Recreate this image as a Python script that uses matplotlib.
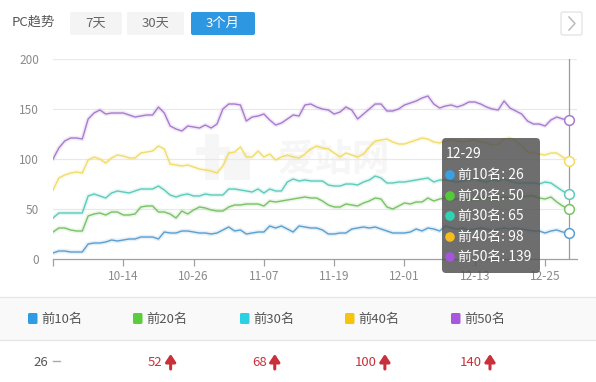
import matplotlib
matplotlib.use("Agg")
import matplotlib.pyplot as plt
from matplotlib.patches import FancyBboxPatch, Rectangle, Circle
import numpy as np

plt.rcParams['font.family'] = ['Noto Sans CJK SC', 'DejaVu Sans']

# ---------------- data ----------------
tick_labels = ["10-14", "10-26", "11-07", "11-19", "12-01", "12-13", "12-25"]
tick_days = [12, 24, 36, 48, 60, 72, 84]
series_names = ["前10名", "前20名", "前30名", "前40名", "前50名"]

top10 = [6, 8, 8, 7, 7, 7, 15, 16, 16, 17, 19, 18, 19, 20, 20, 22, 22, 22, 20, 27,
         26, 26, 28, 28, 27, 26, 26, 25, 26, 29, 32, 28, 29, 25, 26, 27, 27, 33, 31, 33,
         30, 27, 33, 32, 31, 31, 29, 25, 25, 26, 26, 30, 31, 32, 31, 32, 30, 28, 26, 26,
         26, 27, 30, 28, 31, 30, 28, 33, 31, 30, 31, 29, 30, 31, 30, 29, 30, 31, 30, 31,
         30, 29, 28, 28, 26, 28, 29, 27, 26]
top20 = [27, 31, 31, 29, 28, 28, 43, 45, 46, 44, 47, 47, 44, 44, 45, 52, 53, 53, 47, 47,
         45, 41, 48, 45, 49, 52, 51, 49, 48, 48, 52, 54, 54, 55, 55, 55, 53, 58, 57, 58,
         59, 60, 61, 62, 61, 61, 58, 54, 52, 52, 55, 54, 53, 56, 58, 61, 60, 52, 50, 53,
         56, 55, 57, 57, 61, 58, 60, 61, 59, 60, 61, 59, 60, 61, 62, 60, 61, 62, 61, 62,
         62, 63, 63, 61, 60, 62, 57, 53, 50]
top30 = [41, 46, 46, 46, 46, 46, 63, 65, 63, 61, 66, 68, 67, 66, 68, 70, 70, 70, 73, 69,
         64, 62, 64, 65, 63, 63, 65, 64, 64, 64, 70, 70, 69, 68, 67, 70, 66, 70, 68, 68,
         77, 80, 78, 79, 78, 78, 78, 74, 73, 73, 75, 75, 74, 77, 79, 83, 81, 76, 76, 77,
         77, 78, 79, 80, 81, 77, 79, 79, 78, 77, 78, 79, 80, 78, 77, 79, 78, 80, 78, 76,
         76, 76, 76, 75, 77, 76, 72, 68, 65]
top40 = [69, 81, 84, 86, 87, 86, 99, 102, 100, 96, 101, 104, 103, 101, 101, 106, 107, 108, 113, 110,
         95, 94, 93, 94, 92, 90, 89, 88, 86, 93, 106, 107, 112, 102, 102, 108, 102, 105, 99, 102,
         104, 102, 101, 105, 110, 113, 111, 110, 106, 102, 106, 104, 102, 105, 112, 118, 119, 120, 117, 115,
         115, 117, 119, 121, 120, 117, 116, 118, 119, 118, 117, 118, 119, 117, 116, 114, 115, 120, 121, 118,
         113, 107, 106, 105, 104, 106, 106, 102, 98]
top50 = [100, 111, 118, 121, 121, 120, 140, 146, 149, 145, 146, 146, 146, 144, 142, 143, 144, 144, 152, 146,
         133, 130, 128, 133, 132, 131, 134, 131, 135, 150, 155, 155, 154, 138, 142, 143, 145, 139, 134, 136,
         140, 144, 143, 154, 155, 152, 150, 149, 145, 147, 152, 149, 140, 145, 150, 155, 155, 148, 148, 150,
         154, 156, 158, 161, 163, 155, 151, 153, 154, 152, 154, 157, 157, 155, 152, 150, 149, 158, 151, 148,
         145, 138, 135, 135, 133, 139, 142, 140, 139]
series = [top10, top20, top30, top40, top50]

tooltip_date = "12-29"
summary_values = ["26", "52", "68", "100", "140"]
summary_trend = ["flat", "up", "up", "up", "up"]

line_colors = ["#5b9fcf", "#79c266", "#5ccbbb", "#f1dc6a", "#a97bcf"]
dot_colors = ["#3aa0e4", "#55c93a", "#2fd3b4", "#f7bd1c", "#a455de"]
legend_colors = ["#2f9be3", "#5ccb3c", "#2bd0e3", "#f5c40f", "#a958dd"]

W, H = 596, 382
fig = plt.figure(figsize=(W / 100, H / 100), dpi=100)
fig.patch.set_facecolor("white")

def fx(x):
    return x / W

def fy(y):
    return 1 - y / H

# ---------------- background (watermark) ----------------
bg = fig.add_axes([0, 0, 1, 1], zorder=0)
bg.set_xlim(0, W)
bg.set_ylim(H, 0)
bg.axis("off")
wm = "#f6f6f6"
bg.add_patch(Rectangle((205, 134), 14, 46, fc=wm, ec="none"))
bg.add_patch(Rectangle((196, 147), 34, 8, fc=wm, ec="none"))
bg.add_patch(Rectangle((224, 152), 26, 28, fc=wm, ec="none"))
bg.text(334, 159, "爱站网", fontsize=27, color=wm, ha="center", va="center", fontweight="bold")

# ---------------- main chart ----------------
n = len(top10)
left_px, right_px, top_px, bot_px = 53, 577, 59, 259
ax = fig.add_axes([fx(left_px), fy(bot_px), (right_px - left_px) / W, (bot_px - top_px) / H], zorder=1)
step = (568.5 - 53) / (n - 1)
ax.set_xlim(0, (right_px - left_px) / step)
ax.set_ylim(0, 200)
ax.patch.set_alpha(0)
days = np.arange(n)

for yv in [50, 100, 150, 200]:
    ax.axhline(yv, color="#e9e9e9", lw=0.9, zorder=1)

for vals, c in zip(series, line_colors):
    ax.plot(days, vals, color=c, lw=3.2, alpha=0.16, zorder=2, solid_capstyle="round")
    ax.plot(days, vals, color=c, lw=1.0, zorder=3)
    ax.plot([days[-1]], [vals[-1]], marker="o", ms=7, mfc="white", mec=c, mew=1.1, zorder=5)

ax.axvline(days[-1], color="#9a9a9a", lw=0.9, zorder=4)

for s in ["top", "right", "left"]:
    ax.spines[s].set_visible(False)
ax.spines["bottom"].set_color("#a0a0a0")
ax.spines["bottom"].set_linewidth(0.9)
ax.set_yticks([0, 50, 100, 150, 200])
ax.set_yticklabels(["0", "50", "100", "150", "200"])
ax.tick_params(axis="y", length=0, pad=10, labelsize=8.5, labelcolor="#8a8a8a")
ax.set_xticks([0] + tick_days)
ax.set_xticklabels([""] + tick_labels)
ax.tick_params(axis="x", length=5, width=0.9, color="#a0a0a0", pad=3, labelsize=8.5, labelcolor="#8a8a8a")

# ---------------- overlay (pixel coords) ----------------
ov = fig.add_axes([0, 0, 1, 1], zorder=10)
ov.set_xlim(0, W)
ov.set_ylim(H, 0)
ov.axis("off")
ov.patch.set_alpha(0)

# header
ov.text(12, 22, "PC趋势", fontsize=9.5, color="#555555", va="center", ha="left")
buttons = [("7天", 70, 122, "#f4f4f4", "#666666"),
           ("30天", 127, 184, "#f4f4f4", "#666666"),
           ("3个月", 191, 255, "#2d97e2", "#ffffff")]
for label, x0, x1, bgc, fg in buttons:
    ov.add_patch(FancyBboxPatch((x0, 12), x1 - x0, 23, boxstyle="round,pad=0,rounding_size=2",
                                fc=bgc, ec="none"))
    ov.text((x0 + x1) / 2, 23.5, label, fontsize=9.5, color=fg, ha="center", va="center")
ov.add_patch(FancyBboxPatch((561, 12), 21, 23, boxstyle="round,pad=0,rounding_size=2",
                            fc="white", ec="#e2e2e2", lw=0.9))
ov.plot([569, 575, 569], [17, 23.5, 30], color="#bbbbbb", lw=1.1)

# tooltip
ov.add_patch(FancyBboxPatch((442, 138), 98, 135, boxstyle="round,pad=0,rounding_size=4",
                            fc="#555555", ec="none", alpha=0.85))
ov.text(446, 154, tooltip_date, fontsize=10, color="white", va="center", ha="left")
row_y = [175, 196, 216, 237, 257]
for name, vals, c, yy in zip(series_names, series, dot_colors, row_y):
    ov.add_patch(Circle((450, yy), 4.8, fc=c, ec="none"))
    ov.text(458, yy, f"{name}: {vals[-1]}", fontsize=10, color="white", va="center", ha="left")

# bottom legend band
ov.add_patch(Rectangle((0, 297), W, 43, fc="#f9f9f9", ec="none", zorder=0))
ov.plot([0, W], [297, 297], color="#e6e6e6", lw=0.9)
ov.plot([0, W], [340, 340], color="#e6e6e6", lw=0.9)
leg_x = [28, 133, 240, 345, 451]
for name, c, x in zip(series_names, legend_colors, leg_x):
    ov.add_patch(FancyBboxPatch((x, 313), 9.5, 11, boxstyle="round,pad=0,rounding_size=1.5",
                                fc=c, ec="none"))
    ov.text(x + 13, 319, name, fontsize=9.5, color="#555555", va="center", ha="left")

# summary row
val_x = [33, 148, 252, 355, 460]
fig.canvas.draw()
renderer = fig.canvas.get_renderer()
for val, trend, vx in zip(summary_values, summary_trend, val_x):
    col = "#555555" if trend == "flat" else "#c9313a"
    t = ov.text(vx, 362, val, fontsize=9.5, color=col, va="center", ha="left")
    bb = t.get_window_extent(renderer=renderer)
    xend = bb.x1 * W / fig.bbox.width
    if trend == "flat":
        ov.plot([xend + 5, xend + 12], [361, 361], color="#aaaaaa", lw=1.0)
    else:
        ax_x = xend + 8
        ov.annotate("", xy=(ax_x, 354), xytext=(ax_x, 369),
                    arrowprops=dict(arrowstyle="-|>,head_length=0.45,head_width=0.3",
                                    color="#c9313a", lw=2.2, shrinkA=0, shrinkB=0))

fig.savefig("out.png", dpi=100, facecolor="white")
